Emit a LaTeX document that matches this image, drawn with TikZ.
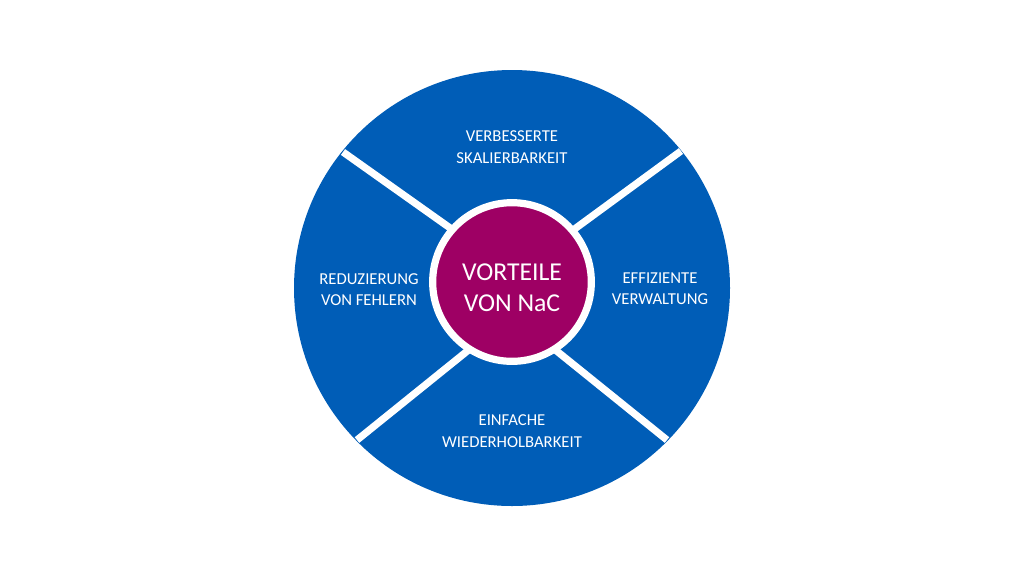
\documentclass[tikz,border=0pt]{standalone}
\usepackage{fontspec}
\setmainfont{Carlito}
\usetikzlibrary{positioning}
\definecolor{wheelblue}{RGB}{0,93,183}
\definecolor{hubpurple}{RGB}{158,0,100}
\tikzset{
    px/.style={x=0.75pt,y=-0.75pt},
    gap/.style={white,line width=5.4pt},
    label/.style={text=white,align=center,font=\fontsize{12.5pt}{16pt}\selectfont,inner sep=0pt}
}

\begin{document}
\begin{tikzpicture}[px]
    \useasboundingbox (0,0) rectangle (1024,576);
    \fill[white] (0,0) rectangle (1024,576);

    \node (wheel) [circle, fill=wheelblue, minimum size=327pt, inner sep=0pt] at (512,288) {};

    \coordinate (top left) at (343,152);
    \coordinate (top right) at (681,151);
    \coordinate (bottom left) at (357,440);
    \coordinate (bottom right) at (667,440);
    \coordinate (hub top left) at (460,235);
    \coordinate (hub top right) at (565,236);
    \coordinate (hub bottom left) at (476,344);
    \coordinate (hub bottom right) at (548,344);

    \foreach \corner in {top left,top right,bottom left,bottom right}{
        \draw[gap] (\corner) -- (hub \corner);
    }

    \node (hub) [circle, fill=hubpurple, draw=white, line width=5.4pt, minimum size=119pt, inner sep=0pt] at (512,282) {};
    \node (hub text) [text=white, align=center, font=\fontsize{19.3pt}{23.5pt}\selectfont, inner sep=0pt] at (512,288) {VORTEILE\\VON NaC};

    \node (top text) [label] at (512,147) {VERBESSERTE\\SKALIERBARKEIT};
    \node (right text) [label] at (660,289) {EFFIZIENTE\\VERWALTUNG};
    \node (bottom text) [label] at (512,431) {EINFACHE\\WIEDERHOLBARKEIT};
    \node (left text) [label] at (369,289.5) {REDUZIERUNG\\VON FEHLERN};
\end{tikzpicture}
\end{document}
